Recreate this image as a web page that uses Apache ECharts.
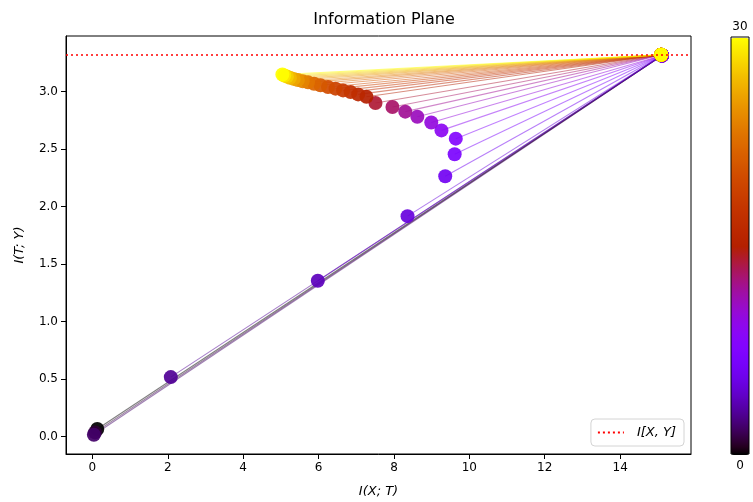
<!DOCTYPE html>
<html>
<head>
<meta charset="utf-8">
<script src="https://cdn.jsdelivr.net/npm/echarts@6/dist/echarts.min.js"></script>
<style>
  html, body { margin: 0; padding: 0; background: #ffffff; }
  #chart { width: 753px; height: 502px; }
</style>
</head>
<body>
<div id="chart"></div>
<script>
// Training epochs, coloured on the gnuplot scale
const epochs = [0, 1, 2, 3, 4, 5, 6, 7, 8, 9, 10, 11, 12, 13, 14, 15,
                16, 17, 18, 19, 20, 21, 22, 23, 24, 25, 26, 27, 28, 29, 30];

// First hidden layer: I(X;T) and I(T;Y) per epoch
const ixtFirst = [15.11, 15.11, 15.11, 15.11, 15.11, 15.11, 15.11, 15.11, 15.11, 15.11, 15.11,
                  15.09, 15.09, 15.09, 15.09, 15.09, 15.09, 15.09, 15.09, 15.09, 15.09,
                  15.09, 15.09, 15.09, 15.09, 15.09, 15.09, 15.09, 15.09, 15.09, 15.09];
const ityFirst = [3.313, 3.313, 3.313, 3.313, 3.313, 3.313, 3.313, 3.313, 3.313, 3.313, 3.313,
                  3.32, 3.32, 3.32, 3.32, 3.32, 3.32, 3.32, 3.32, 3.32, 3.32,
                  3.32, 3.32, 3.32, 3.32, 3.32, 3.32, 3.32, 3.32, 3.32, 3.32];

// Last hidden layer: I(X;T) and I(T;Y) per epoch
const ixtLast = [0.13, 0.07, 0.04, 2.08, 5.98, 8.36, 9.36, 9.61, 9.64, 9.26, 8.99,
                 8.62, 8.30, 7.96, 7.51, 7.27, 7.05, 6.85, 6.65, 6.45, 6.25,
                 6.05, 5.88, 5.72, 5.58, 5.45, 5.34, 5.24, 5.16, 5.09, 5.04];
const ityLast = [0.064, 0.035, 0.015, 0.516, 1.354, 1.916, 2.263, 2.454, 2.59, 2.662, 2.73,
                 2.78, 2.825, 2.865, 2.90, 2.955, 2.975, 2.995, 3.01, 3.025, 3.04,
                 3.055, 3.067, 3.08, 3.09, 3.10, 3.11, 3.12, 3.13, 3.14, 3.148];

// Upper bound I[X,Y]
const ixy = 3.32;

// Axis tick labels
const xTicks = [0, 2, 4, 6, 8, 10, 12, 14];
const yTicks = [0, 0.5, 1.0, 1.5, 2.0, 2.5, 3.0];

const FONT = 'DejaVu Sans';

// gnuplot colormap: r = sqrt(t), g = t^3, b = sin(2*pi*t)
function gnuplot(t) {
  const r = Math.sqrt(t);
  const g = t * t * t;
  const b = Math.max(0, Math.sin(2 * Math.PI * t));
  return [Math.round(r * 255), Math.round(g * 255), Math.round(Math.min(1, b) * 255)];
}
function rgba(c, a) { return 'rgba(' + c[0] + ',' + c[1] + ',' + c[2] + ',' + a + ')'; }

const maxEpoch = 30;
const rampStops = [];
for (let i = 0; i <= 64; i++) rampStops.push(rgba(gnuplot(i / 64), 1));

// One thin connecting line per epoch
const series = epochs.map((e, i) => ({
  type: 'line',
  name: 'epoch ' + e,
  data: [[ixtFirst[i], ityFirst[i]], [ixtLast[i], ityLast[i]]],
  symbol: 'none',
  silent: true,
  z: 2,
  lineStyle: { color: rgba(gnuplot(e / maxEpoch), 0.5), width: 1.1 }
}));

// Layer points, coloured by epoch through the visualMap
const scatterData = [];
epochs.forEach((e, i) => { scatterData.push([ixtLast[i], ityLast[i], e]); });
epochs.forEach((e, i) => { scatterData.push([ixtFirst[i], ityFirst[i], e]); });
const scatterIndex = series.length;
series.push({
  type: 'scatter',
  name: 'layers',
  data: scatterData,
  symbolSize: 14,
  z: 3,
  itemStyle: { opacity: 0.92 }
});

// Dotted reference line I[X,Y]
series.push({
  type: 'line',
  name: 'I[X, Y]',
  data: [],
  symbol: 'none',
  z: 4,
  itemStyle: { color: '#ff0000' },
  lineStyle: { color: '#ff0000', type: [2, 3], width: 1.6 },
  markLine: {
    silent: true,
    symbol: ['none', 'none'],
    label: { show: false },
    lineStyle: { color: '#ff0000', type: [2, 3], width: 1.6 },
    data: [{ yAxis: ixy }]
  }
});

const bar = { left: 731, top: 37, width: 18, height: 417 };

const chart = echarts.init(document.getElementById('chart'), null, { renderer: 'canvas' });
chart.setOption({
  animation: false,
  backgroundColor: '#ffffff',
  title: {
    text: 'Information Plane',
    left: 379, top: 7, textAlign: 'center',
    textStyle: { fontFamily: FONT, fontSize: 16, fontWeight: 'normal', color: '#000' }
  },
  grid: {
    left: 66, right: 62, top: 36, bottom: 48,
    outerBoundsMode: 'none',
    containLabel: false,
    show: true, borderColor: '#000', borderWidth: 1, backgroundColor: 'transparent'
  },
  legend: {
    data: ['I[X, Y]'],
    right: 69, bottom: 56,
    orient: 'vertical',
    backgroundColor: '#fff',
    borderColor: '#d4d4d4', borderWidth: 1, borderRadius: 4,
    padding: [7, 8, 7, 6],
    itemWidth: 26, itemHeight: 10, itemGap: 6,
    itemStyle: { color: 'transparent', borderColor: 'transparent', borderWidth: 0 },
    textStyle: { fontFamily: FONT, fontSize: 13, fontStyle: 'italic', color: '#000', padding: [0, 0, 0, 8] }
  },
  visualMap: {
    type: 'continuous',
    seriesIndex: scatterIndex,
    dimension: 2,
    min: 0, max: maxEpoch,
    calculable: false,
    hoverLink: false,
    orient: 'vertical',
    left: bar.left, top: bar.top - 16,
    padding: 0,
    itemWidth: bar.width, itemHeight: bar.height,
    text: ['30', '0'], textGap: 5,
    textStyle: { fontFamily: FONT, fontSize: 12, color: '#000' },
    inRange: { color: rampStops }
  },
  xAxis: {
    type: 'value',
    min: -0.7, max: 15.88,
    name: 'I(X; T)', nameLocation: 'middle', nameGap: 31,
    nameTextStyle: { fontFamily: FONT, fontSize: 13, fontStyle: 'italic', color: '#000' },
    axisLine: { show: true, onZero: false, lineStyle: { color: '#000', width: 1 } },
    axisTick: { show: true, length: 5, customValues: xTicks, lineStyle: { color: '#000' } },
    axisLabel: { customValues: xTicks, margin: 8, fontFamily: FONT, fontSize: 12, color: '#000' },
    splitLine: { show: false }
  },
  yAxis: {
    type: 'value',
    min: -0.153, max: 3.483,
    name: 'I(T; Y)', nameLocation: 'middle', nameGap: 40, nameRotate: 90,
    nameTextStyle: { fontFamily: FONT, fontSize: 13, fontStyle: 'italic', color: '#000' },
    axisLine: { show: true, onZero: false, lineStyle: { color: '#000', width: 1 } },
    axisTick: { show: true, length: 5, customValues: yTicks, lineStyle: { color: '#000' } },
    axisLabel: {
      customValues: yTicks, margin: 8, fontFamily: FONT, fontSize: 12, color: '#000',
      formatter: v => v.toFixed(1)
    },
    splitLine: { show: false }
  },
  graphic: [{
    type: 'rect',
    silent: true,
    z: 100,
    shape: { x: bar.left, y: bar.top, width: bar.width, height: bar.height },
    style: { fill: 'none', stroke: '#000', lineWidth: 1 }
  }],
  series: series
});
</script>
</body>
</html>
